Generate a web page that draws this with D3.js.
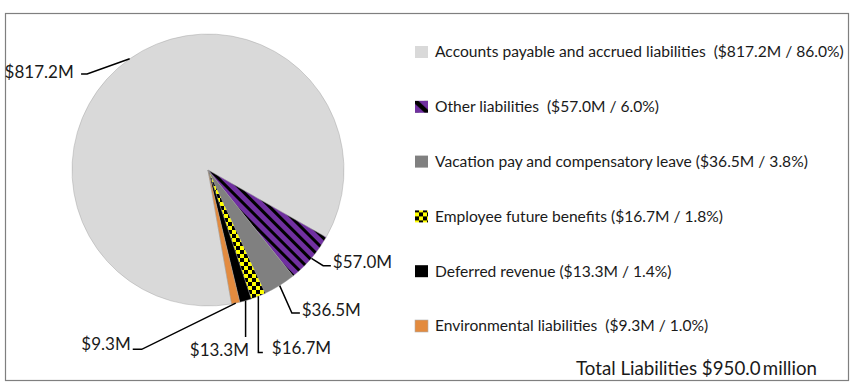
<!DOCTYPE html>
<html lang="en">
<head>
<meta charset="UTF-8">
<title>Total Liabilities</title>
<script src="https://d3js.org/d3.v7.min.js"></script>
<style>
  body { margin: 0; background: #fff; }
  text { font-family: Lato, "Open Sans", sans-serif; fill: #1a1a1a; white-space: pre; }
</style>
</head>
<body>
<div id="chart"></div>
<script>
// liabilities, in $ millions
var categories = ["Accounts payable and accrued liabilities", "Other liabilities",
    "Vacation pay and compensatory leave", "Employee future benefits",
    "Deferred revenue", "Environmental liabilities"];
var values = [817.2, 57.0, 36.5, 16.7, 13.3, 9.3];
var legendGap = [2, 2, 1, 1, 1, 2]; // spaces before the bracket, like the original

// styles
var fills = ["#d9d9d9", "url(#stripes)", "#808080", "url(#checks)", "#000000", "#e38b3f"];
var legendFills = ["#d9d9d9", "url(#stripesKey)", "#808080", "url(#checks)", "#000000", "#e38b3f"];

// leader lines: offsets from the point on the rim (bend, end, text pos, anchor)
var leaders = [
    {bend: [-42.6, 15.1], end: [-48.6, 15.1], text: [-56, 13], anchor: "end"},
    {bend: [11.7, 7.4], end: [19.4, 7.4], text: [21.4, 3.9], anchor: "start"},
    {bend: [12.2, 27.5], end: [20.2, 27.5], text: [22, 24.5], anchor: "start"},
    {bend: [0, 56.2], end: [4.5, 56.2], text: [13.5, 51.7], anchor: "start"},
    {bend: [0, 36.3], end: [0, 36.3], text: [-26.2, 49.3], anchor: "middle"},
    {bend: [-94, 46.2], end: [-103, 46.2], text: [-105, 40.9], anchor: "end"}
];

var width = 859, height = 388;
var cx = 208, cy = 170, radius = 136;
var startDeg = 170;

var total = d3.sum(values);
var data = values.map(function(v, i) { return {name: categories[i], value: v, i: i}; });

var svg = d3.select("#chart").append("svg")
    .attr("width", width).attr("height", height);

var defs = svg.append("defs");
var stripes = defs.append("pattern").attr("id", "stripes")
    .attr("patternUnits", "userSpaceOnUse").attr("width", 8).attr("height", 8)
    .attr("patternTransform", "rotate(-45)");
stripes.append("rect").attr("width", 8).attr("height", 8).attr("fill", "#7030a0");
stripes.append("rect").attr("width", 3).attr("height", 8).attr("fill", "#000");

var stripesKey = defs.append("pattern").attr("id", "stripesKey")
    .attr("patternUnits", "objectBoundingBox").attr("patternContentUnits", "objectBoundingBox")
    .attr("width", 1).attr("height", 1);
stripesKey.append("rect").attr("width", 1).attr("height", 1).attr("fill", "#7030a0");
stripesKey.append("path").attr("d", "M0,0.25 L0,0 L0.25,0 L1,0.75 L1,1 L0.75,1 Z").attr("fill", "#000");

var checks = defs.append("pattern").attr("id", "checks")
    .attr("patternUnits", "userSpaceOnUse").attr("width", 8).attr("height", 8);
checks.append("rect").attr("width", 8).attr("height", 8).attr("fill", "#ffff00");
checks.append("rect").attr("width", 4).attr("height", 4).attr("fill", "#000");
checks.append("rect").attr("x", 4).attr("y", 4).attr("width", 4).attr("height", 4).attr("fill", "#000");

// frame
svg.append("rect")
    .attr("x", 5.5).attr("y", 13.5).attr("width", 843).attr("height", 367)
    .attr("fill", "#fff").attr("stroke", "#7f7f7f").attr("stroke-width", 1.2);

var a0 = startDeg * Math.PI / 180;
var pie = d3.pie().sort(null).value(function(d) { return d.value; })
    .startAngle(a0).endAngle(a0 + 2 * Math.PI);
var arc = d3.arc().innerRadius(0).outerRadius(radius);
var rim = d3.arc().innerRadius(radius).outerRadius(radius);

var arcs = pie(data);
var g = svg.append("g").attr("transform", "translate(" + cx + "," + cy + ")");

g.selectAll("path.slice").data(arcs).enter().append("path")
    .attr("class", "slice")
    .attr("d", arc)
    .attr("fill", function(d) { return fills[d.data.i]; })
    .attr("stroke", "#9a9a9a").attr("stroke-width", 0.4);

// data labels with leader lines
arcs.forEach(function(d) {
    var L = leaders[d.data.i];
    var p = rim.centroid(d);
    g.append("polyline")
        .attr("points", [p, [p[0] + L.bend[0], p[1] + L.bend[1]], [p[0] + L.end[0], p[1] + L.end[1]]].join(" "))
        .attr("fill", "none").attr("stroke", "#000").attr("stroke-width", 1.5);
    g.append("text")
        .attr("x", p[0] + L.text[0]).attr("y", p[1] + L.text[1])
        .attr("dy", "0.35em")
        .attr("text-anchor", L.anchor)
        .style("font-size", "17px")
        .text("$" + d.data.value.toFixed(1) + "M");
});

// legend
var legendY = d3.scalePoint().domain(d3.range(categories.length)).range([52, 326]);
var legend = svg.append("g");
var rows = legend.selectAll("g").data(data).enter().append("g")
    .attr("transform", function(d) { return "translate(415," + legendY(d.i) + ")"; });
rows.append("rect")
    .attr("x", 0).attr("y", -6).attr("width", 13).attr("height", 12)
    .attr("fill", function(d) { return legendFills[d.i]; })
    .attr("stroke", function(d) { return d.i === 5 ? "#b0b0b0" : "none"; })
    .attr("stroke-width", 0.6);
rows.append("text")
    .attr("x", 20).attr("dy", "0.35em")
    .style("font-size", "15.6px")
    .text(function(d) {
        return d.name + " ".repeat(legendGap[d.i]) + "($" + d.value.toFixed(1) + "M / " +
            (d.value / total * 100).toFixed(1) + "%)";
    });

svg.append("text")
    .attr("x", 817).attr("y", 368).attr("dy", "0.35em")
    .attr("text-anchor", "end")
    .style("font-size", "18.7px")
    .text("Total Liabilities $" + total.toFixed(1) + "\u2009million");
</script>
</body>
</html>
